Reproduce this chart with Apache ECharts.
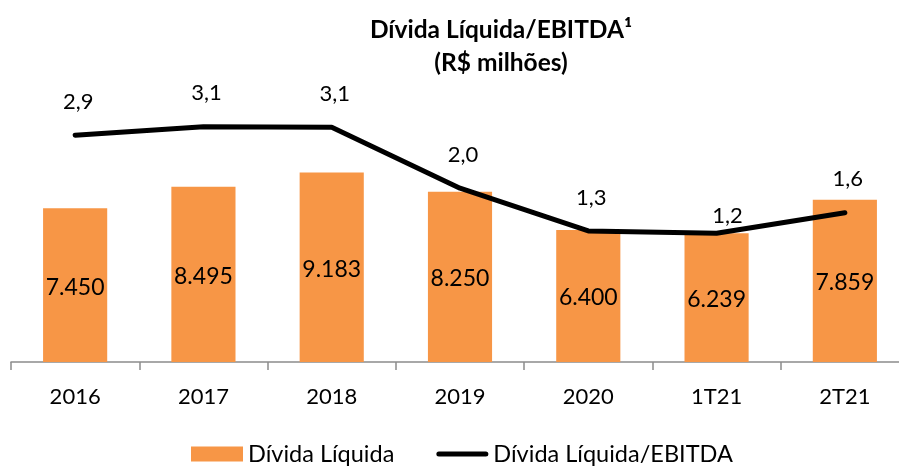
<!DOCTYPE html>
<html>
<head>
<meta charset="utf-8">
<script src="https://cdn.jsdelivr.net/npm/echarts@6/dist/echarts.min.js"></script>
<style>html,body{margin:0;padding:0;background:#fff;overflow:hidden}#c{width:910px;height:466px}</style>
</head>
<body>
<div id="c"></div>
<script>
const categories = ['2016', '2017', '2018', '2019', '2020', '1T21', '2T21'];
const dividaLiquida = [7450, 8495, 9183, 8250, 6400, 6239, 7859];
const dividaEbitda = [2.94, 3.09, 3.08, 2.01, 1.26, 1.22, 1.58];
const seriesNames = ['Dívida Líquida', 'Dívida Líquida/EBITDA'];
const titleText = 'Dívida Líquida/EBITDA¹\n(R$ milhões)';

const FONT = 'Lato';
const fmtThousands = v => String(v).replace(/\B(?=(\d{3})+(?!\d))/g, '.');
const fmtRatio = v => v.toFixed(1).replace('.', ',');

const lineData = dividaEbitda.map((v, i) => {
  if (i === 5) return { value: v, label: { offset: [11, 16] } };
  return v;
});

const chart = echarts.init(document.getElementById('c'), null, { renderer: 'canvas' });
chart.setOption({
  animation: false,
  backgroundColor: '#fff',
  title: {
    text: titleText,
    left: 501,
    top: 14,
    padding: 0,
    textAlign: 'center',
    textStyle: { fontFamily: FONT, fontWeight: 'bold', fontSize: 24.5, lineHeight: 33, color: '#000' }
  },
  legend: {
    data: [
      { name: seriesNames[0], icon: 'rect' },
      { name: seriesNames[1], icon: 'path://M2.5,0H49.5A2.5,2.5,0,0,1,49.5,5H2.5A2.5,2.5,0,0,1,2.5,0Z' }
    ],
    left: 191,
    top: 442,
    padding: 0,
    itemWidth: 52,
    itemHeight: 15,
    itemGap: 42,
    textStyle: { fontFamily: FONT, fontSize: 23.5, color: '#000' }
  },
  grid: { left: 11, top: 52, width: 898, height: 310, containLabel: false },
  xAxis: {
    type: 'category',
    data: categories,
    boundaryGap: true,
    axisLine: { lineStyle: { color: '#8c8c8c', width: 1.5 } },
    axisTick: { show: true, length: 8, lineStyle: { color: '#8c8c8c', width: 1.5 } },
    axisLabel: { fontFamily: FONT, fontSize: 22, color: '#000', margin: 24 }
  },
  yAxis: [
    { type: 'value', min: 0, max: 15027, show: false, splitLine: { show: false } },
    { type: 'value', min: -1.04, max: 4.40, show: false, splitLine: { show: false } }
  ],
  series: [
    {
      name: seriesNames[0],
      type: 'bar',
      data: dividaLiquida,
      barWidth: '50%',
      itemStyle: { color: '#F79646' },
      label: {
        show: true,
        position: 'inside',
        offset: [0, 2],
        formatter: p => fmtThousands(p.value),
        fontFamily: FONT, fontSize: 23, color: '#000'
      },
      z: 2
    },
    {
      name: seriesNames[1],
      type: 'line',
      yAxisIndex: 1,
      data: lineData,
      symbol: 'circle',
      symbolSize: 1,
      showSymbol: true,
      lineStyle: { color: '#000', width: 5, cap: 'round', join: 'round' },
      itemStyle: { color: '#000' },
      label: {
        show: true,
        position: 'top',
        distance: 22,
        offset: [3, 0],
        formatter: p => fmtRatio(p.value),
        fontFamily: FONT, fontSize: 22, color: '#000'
      },
      z: 3
    }
  ]
});
</script>
</body>
</html>
